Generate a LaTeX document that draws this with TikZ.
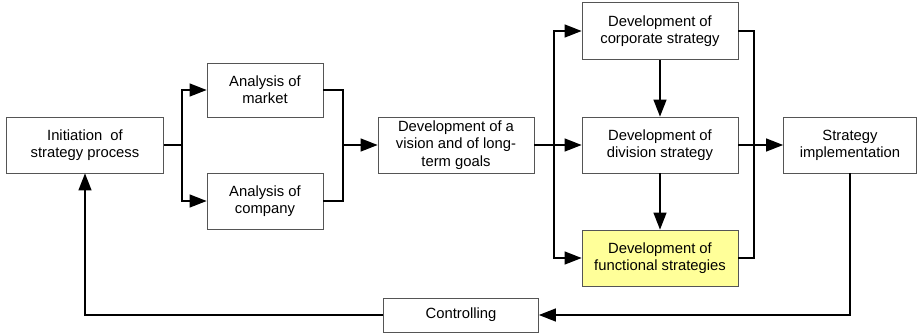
\documentclass[tikz,border=0pt]{standalone}
\usepackage{fontspec}
\setmainfont{Liberation Sans}
\usetikzlibrary{arrows.meta}
\definecolor{boxline}{HTML}{555555}
\definecolor{hilite}{HTML}{FFFF99}

\tikzset{
  stage/.style={draw=boxline, line width=0.8pt, fill=white, align=center,
                inner sep=1pt, minimum height=56pt,
                font=\fontsize{14.8}{17.2}\selectfont},
  flow/.style={line width=1.3pt, -{Triangle[length=17pt,width=13pt]}},
  link/.style={line width=1.3pt}
}

\begin{document}
\begin{tikzpicture}[x=1pt, y=-1pt]
  \useasboundingbox (0,0) rectangle (918,333);
  % boxes
  \node[stage, minimum width=157pt] (init) at (85,145) {Initiation\ \ of\\strategy process};
  \node[stage, minimum width=116pt, minimum height=54pt] (market) at (265,90) {Analysis of\\market};
  \node[stage, minimum width=116pt] (company) at (265,201) {Analysis of\\company};
  \node[stage, minimum width=156pt] (vision) at (456,145) {Development of a\\vision and of long-\\term goals};
  \node[stage, minimum width=156pt, minimum height=57pt] (corp) at (660,31) {Development of\\corporate strategy};
  \node[stage, minimum width=156pt] (div) at (660,145) {Development of\\division strategy};
  \node[stage, minimum width=156pt, fill=hilite] (func) at (660,258) {Development of\\functional strategies};
  \node[stage, minimum width=133pt] (impl) at (850,145) {Strategy\\implementation};
  \node[stage, minimum width=155pt, minimum height=34pt] (ctrl) at (461,315) {Controlling};
  % branch points
  \coordinate (split1) at (182,145);
  \coordinate (merge1) at (343,145);
  \coordinate (split2) at (554,145);
  \coordinate (merge2) at (754,145);
  % analysis
  \draw[link] (init.east) -- (split1);
  \draw[flow] (split1) |- (market.west);
  \draw[flow] (split1) |- (company.west);
  \draw[link] (market.east) -| (merge1);
  \draw[link] (company.east) -| (merge1);
  \draw[flow] (merge1) -- (vision.west);
  % strategy levels
  \draw[link] (vision.east) -- (split2);
  \draw[flow] (split2) |- (corp.west);
  \draw[flow] (split2) -- (div.west);
  \draw[flow] (split2) |- (func.west);
  \draw[flow] (corp.south) -- (div.north);
  \draw[flow] (div.south) -- (func.north);
  \draw[link] (corp.east) -| (merge2);
  \draw[link] (func.east) -| (merge2);
  \draw[flow] (div.east) -- (impl.west);
  % feedback loop
  \draw[flow] (impl.south) |- (ctrl.east);
  \draw[flow] (ctrl.west) -| (init.south);
\end{tikzpicture}
\end{document}
